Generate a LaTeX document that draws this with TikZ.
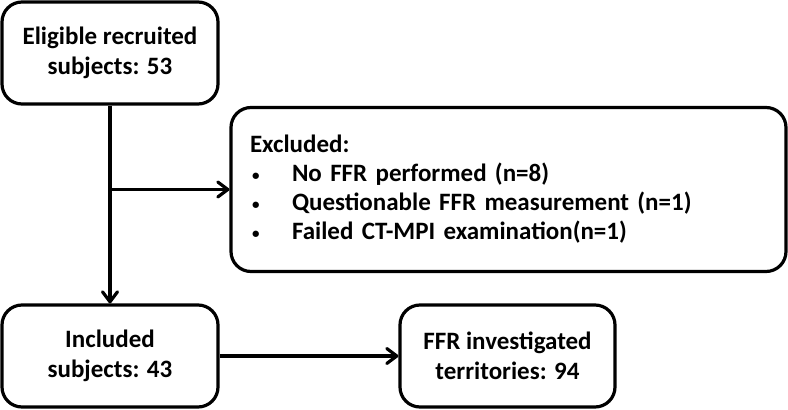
\documentclass[tikz,border=0pt]{standalone}
\usepackage{fontspec}
\setmainfont{Carlito}
\usetikzlibrary{arrows.meta}
\newcommand{\smbullet}{\makebox[42pt][l]{\hspace{2pt}\raisebox{1pt}{\fontsize{15}{15}\selectfont\textbullet}}}
\begin{document}
\begin{tikzpicture}[x=1pt,y=-1pt,
  box/.style={draw=black, line width=3.2pt, rounded corners=20pt, fill=white,
    align=center, inner sep=0pt, font=\fontsize{25}{30}\selectfont\bfseries},
  arrow/.style={line width=3.2pt, -{Straight Barb[length=10pt,width=15pt,line cap=round,line join=round]}}]
\useasboundingbox (0,0) rectangle (788,410);
\node[box, minimum width=216pt, minimum height=102pt] (elig) at (110,53)
  {Eligible recruited\\subjects: 53};
\node[box, minimum width=555pt, minimum height=164pt, align=left, text width=517pt,
      font=\fontsize{25}{29}\selectfont\bfseries] (excl) at (508.5,189.5)
  {Excluded:\\
   \smbullet No FFR performed (n=8)\\
   \smbullet Questionable FFR measurement (n=1)\\
   \smbullet Failed CT-MPI examination(n=1)};
\node[box, minimum width=216pt, minimum height=102pt] (incl) at (110,356)
  {Included\\subjects: 43};
\node[box, minimum width=215pt, minimum height=102pt] (ffr) at (507.5,356)
  {FFR investigated\\territories: 94};
\coordinate (br) at (elig.south |- excl.west);
\draw[arrow] (elig.south) -- (incl.north);
\draw[arrow] (br) -- (excl.west);
\draw[arrow] (incl.east) -- (ffr.west);
\end{tikzpicture}
\end{document}
